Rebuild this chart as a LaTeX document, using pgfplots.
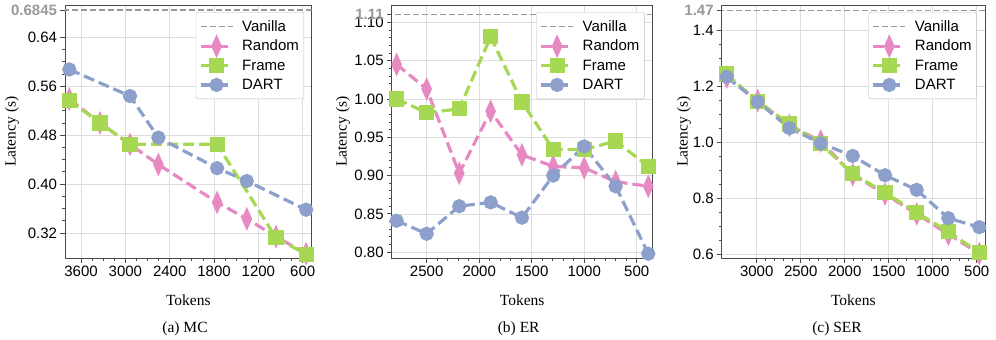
\documentclass[border=0pt]{standalone}
\usepackage{fontspec}
\setmainfont{Liberation Sans}
\newfontfamily\serif{Liberation Serif}
\usepackage{pgfplots}
\pgfplotsset{compat=1.18}

\definecolor{cRandom}{HTML}{E78AC3}
\definecolor{cFrame}{HTML}{A6D854}
\definecolor{cDart}{HTML}{8DA0CB}
\definecolor{cVan}{HTML}{999999}
\definecolor{cGrid}{HTML}{DEDEDE}
\definecolor{cSpine}{HTML}{4A4A4A}

\pgfplotsset{
  panel/.style={
    scale only axis, height=253.3pt, x dir=reverse,
    axis line style={cSpine, line width=0.9pt},
    grid=major, major grid style={cGrid, line width=0.7pt},
    tick align=outside, xtick pos=bottom, ytick pos=left,
    major tick length=4.5pt, minor tick length=2.5pt,
    every tick/.style={cSpine, line width=0.8pt},
    tick label style={font=\fontsize{15}{17}\selectfont},
    /pgf/number format/assume math mode=true,
    xticklabel style={/pgf/number format/1000 sep={}},
    label style={font=\serif\fontsize{15.5}{17}\selectfont},
    xlabel={Tokens}, ylabel={Latency (s)},
    xlabel style={at={(rel axis cs:0.5,0)}, anchor=base, yshift=-47.5pt},
    legend style={at={(0.969,0.972)}, anchor=north east, draw=cGrid!85!black,
      fill=white, font=\fontsize{15}{17}\selectfont, row sep=3.4pt, column sep=6pt,
      inner xsep=3pt, inner ysep=6pt, rounded corners=2pt},
    legend cell align=left,
    legend image code/.code={\draw[mark repeat=2,mark phase=2]
      plot coordinates {(0pt,0pt)(16pt,0pt)(32pt,0pt)};},
    extra y tick style={grid=none,
      tick label style={text=cVan, font=\bfseries\fontsize{15}{17}\selectfont}},
  },
  van/.style={cVan, line width=1.5pt, dash pattern=on 6pt off 3pt, mark=none},
  rnd/.style={cRandom, line width=3.2pt, dash pattern=on 11pt off 5pt,
    mark=diamond*, mark size=8pt, mark options={solid, xscale=0.6, fill=cRandom}},
  frm/.style={cFrame, line width=3.2pt, dash pattern=on 11pt off 5pt,
    mark=square*, mark size=6pt, mark options={solid, fill=cFrame}},
  drt/.style={cDart, line width=3.2pt, dash pattern=on 11pt off 5pt,
    mark=*, mark size=5.5pt, mark options={solid, fill=cDart}},
}

\begin{document}
\begin{tikzpicture}
\useasboundingbox (0,0) rectangle (996pt,340pt);

% (a) MC
\begin{axis}[panel, at={(65pt,81.7pt)}, anchor=south west, width=246.7pt,
  xmin=478, xmax=3817, ymin=0.2785, ymax=0.693,
  xtick={600,1200,1800,2400,3000,3600},
  ytick={0.32,0.40,0.48,0.56,0.64},
  minor x tick num=3, minor y tick num=3,
  yticklabel style={/pgf/number format/.cd, fixed, fixed zerofill, precision=2},
  extra y ticks={0.6845}, extra y tick labels={0.6845},
  ylabel style={at={(axis description cs:-0.2148,0.5)}, anchor=center},
]
\addplot[van] coordinates {(478,0.6845) (3817,0.6845)};
\addlegendentry{Vanilla}
\addplot[rnd] coordinates {(3758,0.539) (3343,0.500) (2937,0.465) (2553,0.432)
  (1758,0.370) (1356,0.343) (960,0.314) (553,0.286)};
\addlegendentry{Random}
\addplot[frm] coordinates {(3758,0.537) (3343,0.500) (2937,0.465) (1758,0.465)
  (960,0.312) (553,0.285)};
\addlegendentry{Frame}
\addplot[drt] coordinates {(3758,0.5875) (2937,0.544) (2553,0.476) (1758,0.426)
  (1356,0.405) (553,0.358)};
\addlegendentry{DART}
\end{axis}

% (b) ER
\begin{axis}[panel, at={(391.7pt,81.7pt)}, anchor=south west, width=261pt,
  xmin=348, xmax=2833, ymin=0.792, ymax=1.1226,
  xtick={500,1000,1500,2000,2500},
  ytick={0.80,0.85,0.90,0.95,1.00,1.05,1.10},
  minor x tick num=4, minor y tick num=4,
  yticklabel style={/pgf/number format/.cd, fixed, fixed zerofill, precision=2},
  extra y ticks={1.11}, extra y tick labels={1.11},
  ylabel style={at={(axis description cs:-0.1866,0.5)}, anchor=center},
]
\addplot[van] coordinates {(348,1.11) (2833,1.11)};
\addlegendentry{Vanilla}
\addplot[rnd] coordinates {(2786,1.045) (2500,1.013) (2190,0.903) (1891,0.984)
  (1593,0.927) (1295,0.912) (1000,0.910) (701,0.892) (390,0.886)};
\addlegendentry{Random}
\addplot[frm] coordinates {(2786,1.000) (2500,0.982) (2190,0.987) (1891,1.081)
  (1593,0.996) (1295,0.934) (1000,0.934) (701,0.945) (390,0.912)};
\addlegendentry{Frame}
\addplot[drt] coordinates {(2786,0.841) (2500,0.824) (2190,0.860) (1891,0.865)
  (1593,0.845) (1295,0.900) (1000,0.938) (701,0.886) (390,0.798)};
\addlegendentry{DART}
\end{axis}

% (c) SER
\begin{axis}[panel, at={(721.7pt,81.7pt)}, anchor=south west, width=263.3pt,
  xmin=406, xmax=3398, ymin=0.586, ymax=1.489,
  xtick={500,1000,1500,2000,2500,3000},
  ytick={0.6,0.8,1.0,1.2,1.4},
  minor x tick num=4, minor y tick num=3,
  yticklabel style={/pgf/number format/.cd, fixed, fixed zerofill, precision=1},
  extra y ticks={1.47}, extra y tick labels={1.47},
  ylabel style={at={(axis description cs:-0.1432,0.5)}, anchor=center},
]
\addplot[van] coordinates {(406,1.47) (3398,1.47)};
\addlegendentry{Vanilla}
\addplot[rnd] coordinates {(3341,1.232) (2989,1.148) (2629,1.060) (2273,1.004)
  (1909,0.884) (1542,0.815) (1182,0.744) (823,0.672) (471,0.603)};
\addlegendentry{Random}
\addplot[frm] coordinates {(3341,1.243) (2989,1.144) (2629,1.065) (2273,0.994)
  (1909,0.887) (1542,0.820) (1182,0.749) (823,0.681) (471,0.606)};
\addlegendentry{Frame}
\addplot[drt] coordinates {(3341,1.233) (2989,1.144) (2629,1.050) (2273,0.996)
  (1909,0.951) (1542,0.882) (1182,0.830) (823,0.729) (471,0.697)};
\addlegendentry{DART}
\end{axis}

\node[anchor=base, font=\serif\fontsize{15.5}{17}\selectfont] at (185pt,7.3pt) {(a) MC};
\node[anchor=base, font=\serif\fontsize{15.5}{17}\selectfont] at (518.7pt,7.3pt) {(b) ER};
\node[anchor=base, font=\serif\fontsize{15.5}{17}\selectfont] at (837pt,7.3pt) {(c) SER};
\end{tikzpicture}
\end{document}
